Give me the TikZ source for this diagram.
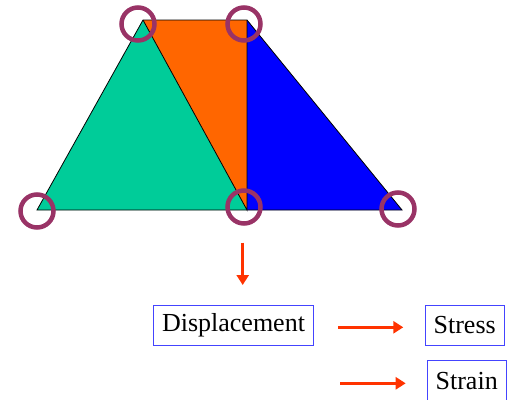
\documentclass[tikz,border=0pt]{standalone}
\usepackage{fontspec}
\setmainfont{Liberation Serif}
\usetikzlibrary{arrows.meta}
\definecolor{tgreen}{HTML}{00CC99}
\definecolor{torange}{HTML}{FF6600}
\definecolor{tblue}{HTML}{0000FF}
\definecolor{ringc}{HTML}{993366}
\definecolor{arrc}{HTML}{FF3300}
\definecolor{boxc}{HTML}{4444FF}
\tikzset{
  ring/.style={circle, draw=ringc, line width=4.5pt, minimum size=33pt, inner sep=0pt},
  elem/.style={draw=black, line width=0.8pt, line join=miter},
  label box/.style={draw=boxc, line width=1pt, font=\fontsize{26}{28}\selectfont, inner xsep=8pt, minimum height=40pt, anchor=center},
  redarrow/.style={draw=arrc, line width=3.3pt, -{Triangle[length=10pt,width=12pt]}}
}
\begin{document}
\begin{tikzpicture}[x=1pt,y=-1pt]
\useasboundingbox (0,0) rectangle (510,399);
\clip (0,0) rectangle (510,399);
\coordinate (A) at (37,210);
\coordinate (B) at (143,20);
\coordinate (C) at (247,20);
\coordinate (D) at (247,210);
\coordinate (E) at (402,210);
\fill[tgreen] (A) -- (B) -- (D) -- cycle;
\fill[torange] (B) -- (C) -- (D) -- cycle;
\fill[tblue] (C) -- (D) -- (E) -- cycle;
\draw[elem] (A) -- (B) -- (C) -- (E) -- cycle;
\draw[elem] (B) -- (D) -- (C);
\node[ring] (rA) at (37,211) {};
\node[ring] (rB) at (138,24) {};
\node[ring] (rC) at (244,24) {};
\node[ring] (rD) at (244,207) {};
\node[ring] (rE) at (398,209) {};
\node[label box, minimum width=160pt] (disp) at (233.5,325.3) {Displacement};
\node[label box, minimum width=79pt] (stress) at (464.7,325.3) {Stress};
\node[label box, minimum width=79pt] (strain) at (466.7,380.7) {Strain};
\coordinate (d1) at (242.7,242.7);
\coordinate (d2) at (242.7,285);
\coordinate (h1a) at (338.3,327.3);
\coordinate (h1b) at (403.3,327.3);
\coordinate (h2a) at (340,383.3);
\coordinate (h2b) at (405.7,383.3);
\draw[redarrow] (d1) -- (d2);
\draw[redarrow] (h1a) -- (h1b);
\draw[redarrow] (h2a) -- (h2b);
\end{tikzpicture}
\end{document}
